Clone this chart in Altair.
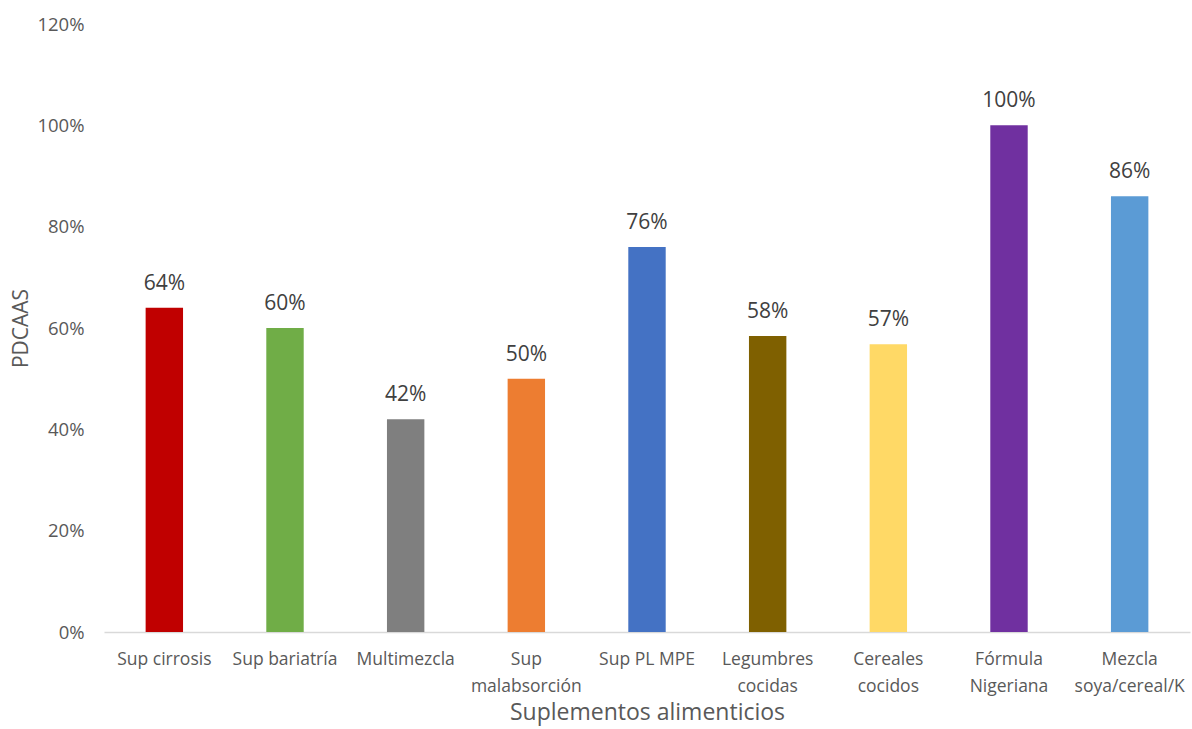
import altair as alt
import pandas as pd

categories = ["Sup cirrosis", "Sup bariatría", "Multimezcla", "Sup|malabsorción", "Sup PL MPE",
              "Legumbres|cocidas", "Cereales|cocidos", "Fórmula|Nigeriana", "Mezcla|soya/cereal/K"]
values = [0.64, 0.60, 0.42, 0.50, 0.76, 0.584, 0.568, 1.00, 0.86]
colors = ["#C00000", "#70AD47", "#7F7F7F", "#ED7D31", "#4472C4", "#7F6000", "#FFD966", "#7030A0", "#5B9BD5"]

df = pd.DataFrame({"cat": categories, "val": values, "color": colors})

FONT = "Open Sans"

x = alt.X("cat:N", sort=categories,
          scale=alt.Scale(paddingInner=0.69, paddingOuter=0.345),
          axis=alt.Axis(title="Suplementos alimenticios", labelAngle=0,
                        labelExpr="split(datum.label, '|')",
                        labelFontSize=17.5, labelColor="#595959", labelFont=FONT,
                        labelLineHeight=27, labelPadding=18, labelBaseline="top",
                        ticks=False, domainColor="#D9D9D9", domainWidth=1.5,
                        titleFontSize=23, titleFont=FONT, titleColor="#595959",
                        titleFontWeight="normal", titlePadding=7))
y = alt.Y("val:Q", scale=alt.Scale(domain=[0, 1.2]),
          axis=alt.Axis(title="PDCAAS", format=".0%", values=[0, 0.2, 0.4, 0.6, 0.8, 1.0, 1.2],
                        grid=False, domain=False, ticks=False,
                        labelFontSize=18.5, labelColor="#595959", labelFont=FONT, labelPadding=20,
                        titleFontSize=21, titleFont=FONT, titleColor="#595959",
                        titleFontWeight="normal", titlePadding=5))

bars = alt.Chart(df).mark_bar().encode(x=x, y=y, color=alt.Color("color:N", scale=None))
labels = alt.Chart(df).mark_text(baseline="alphabetic", dy=-18, fontSize=21, color="#404040", font=FONT).encode(
    x=alt.X("cat:N", sort=categories), y="val:Q", text=alt.Text("val:Q", format=".0%"))

chart = (bars + labels).properties(
    width=1086, height=608,
    background="white",
    autosize=alt.AutoSizeParams(type="none"),
    padding={"left": 104, "top": 24, "right": 2, "bottom": 97},
).configure_view(strokeWidth=0, stroke=None)

chart.save("out.html", embed_options={"renderer": "svg", "actions": False})
